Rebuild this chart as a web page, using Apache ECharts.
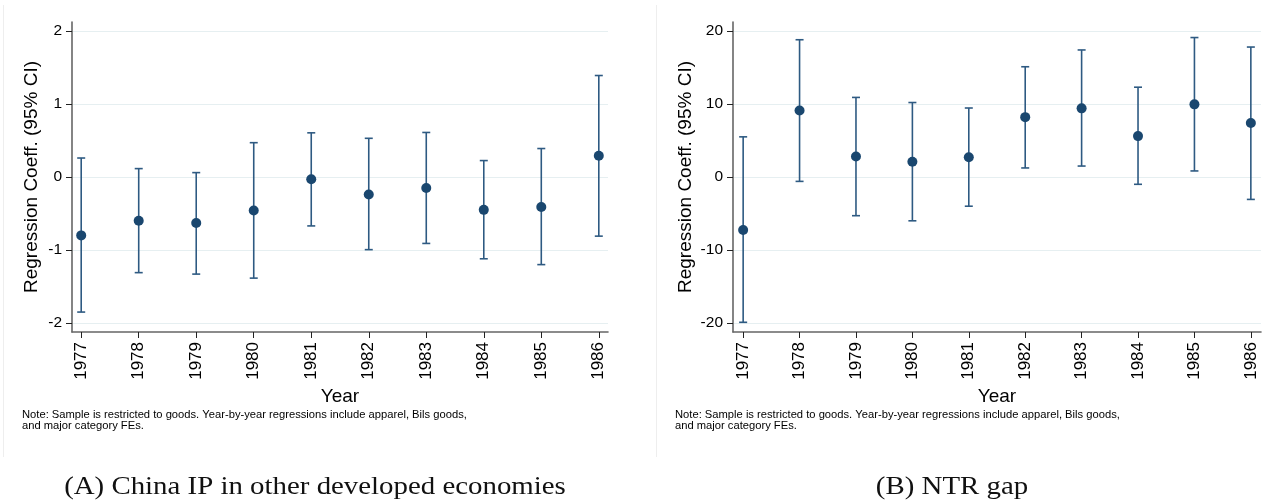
<!DOCTYPE html>
<html>
<head>
<meta charset="utf-8">
<script src="https://cdn.jsdelivr.net/npm/echarts@6/dist/echarts.min.js"></script>
<style>
html,body{margin:0;padding:0;background:#fff;}
#chart{width:1265px;height:502px;}
</style>
</head>
<body>
<div id="chart"></div>
<script>
// ---- data ----
const years = [1977, 1978, 1979, 1980, 1981, 1982, 1983, 1984, 1985, 1986];
const coefA  = [-0.80, -0.60, -0.63, -0.46, -0.03, -0.24, -0.15, -0.45, -0.41, 0.29];
const upperA = [0.26, 0.115, 0.06, 0.47, 0.605, 0.53, 0.61, 0.225, 0.39, 1.39];
const lowerA = [-1.85, -1.31, -1.33, -1.385, -0.67, -0.995, -0.91, -1.12, -1.20, -0.81];
const coefB  = [-7.25, 9.1, 2.8, 2.1, 2.7, 8.2, 9.4, 5.6, 9.95, 7.4];
const upperB = [5.5, 18.8, 10.9, 10.2, 9.45, 15.1, 17.4, 12.3, 19.1, 17.8];
const lowerB = [-19.9, -0.6, -5.3, -6.0, -4.0, 1.24, 1.5, -1.0, 0.83, -3.07];
const yTicksA = [-2, -1, 0, 1, 2];
const yTicksB = [-20, -10, 0, 10, 20];
const yTitle = 'Regression Coeff. (95% CI)';
const xTitle = 'Year';
const noteText = 'Note: Sample is restricted to goods. Year-by-year regressions include apparel, Bils goods,\nand major category FEs.';
const captionA = '(A) China IP in other developed economies';
const captionB = '(B) NTR gap';

const navy = '#1a476f';
const sans = '"Liberation Sans", Arial, sans-serif';
const serif = '"Liberation Serif", "Times New Roman", serif';

function xAxisCfg(idx, min, max) {
  return {
    type: 'value', gridIndex: idx, min: min, max: max,
    name: xTitle, nameLocation: 'middle', nameGap: 55,
    nameTextStyle: {fontFamily: sans, fontSize: 19, color: '#000'},
    axisLine: {show: true, onZero: false, lineStyle: {color: '#666', width: 1.6}},
    axisTick: {show: true, length: 6, customValues: years, lineStyle: {color: '#222', width: 1}},
    axisLabel: {customValues: years, rotate: 90, margin: 10, fontFamily: sans, fontSize: 17, color: '#000', formatter: v => String(v)},
    splitLine: {show: false}
  };
}
function yAxisCfg(idx, lim, ticks, gap) {
  return {
    type: 'value', gridIndex: idx, min: -lim, max: lim,
    name: yTitle, nameLocation: 'middle', nameRotate: 90, nameGap: gap,
    nameTextStyle: {fontFamily: sans, fontSize: 19, color: '#000'},
    axisLine: {show: true, onZero: false, lineStyle: {color: '#666', width: 1.6}},
    axisTick: {show: true, length: 6, customValues: ticks, lineStyle: {color: '#222', width: 1}},
    axisLabel: {customValues: ticks, margin: 10, fontFamily: sans, fontSize: 15.5, color: '#000'},
    splitLine: {show: true, lineStyle: {color: '#e6eff1', width: 1.2}}
  };
}
function errBars(idx, lo, hi) {
  return {
    type: 'custom', xAxisIndex: idx, yAxisIndex: idx,
    data: years.map((y, i) => [y, lo[i], hi[i]]),
    renderItem: function (params, api) {
      const x = api.value(0);
      const p1 = api.coord([x, api.value(1)]);
      const p2 = api.coord([x, api.value(2)]);
      const w = 4;
      const st = {stroke: '#2e5a82', lineWidth: 1.6};
      return {
        type: 'group',
        children: [
          {type: 'line', shape: {x1: p1[0], y1: p1[1], x2: p2[0], y2: p2[1]}, style: st},
          {type: 'line', shape: {x1: p1[0] - w, y1: p1[1], x2: p1[0] + w, y2: p1[1]}, style: st},
          {type: 'line', shape: {x1: p2[0] - w, y1: p2[1], x2: p2[0] + w, y2: p2[1]}, style: st}
        ]
      };
    },
    z: 2
  };
}
function points(idx, vals) {
  return {
    type: 'scatter', xAxisIndex: idx, yAxisIndex: idx,
    data: years.map((y, i) => [y, vals[i]]),
    symbol: 'circle', symbolSize: 10,
    itemStyle: {color: navy, opacity: 1},
    z: 3
  };
}

const chart = echarts.init(document.getElementById('chart'), null, {renderer: 'canvas'});
chart.setOption({
  animation: false,
  backgroundColor: '#fff',
  grid: [
    {left: 72, top: 22, width: 536, height: 310},
    {left: 733, top: 22, width: 528, height: 310}
  ],
  xAxis: [xAxisCfg(0, 1976.84, 1986.16), xAxisCfg(1, 1976.82, 1986.18)],
  yAxis: [yAxisCfg(0, 2.123, yTicksA, 31), yAxisCfg(1, 21.23, yTicksB, 38)],
  series: [errBars(0, lowerA, upperA), points(0, coefA), errBars(1, lowerB, upperB), points(1, coefB)],
  graphic: [
    {type: 'line', shape: {x1: 3.5, y1: 5, x2: 3.5, y2: 457}, style: {stroke: '#eeeeee', lineWidth: 1}, silent: true},
    {type: 'line', shape: {x1: 656.5, y1: 5, x2: 656.5, y2: 457}, style: {stroke: '#eeeeee', lineWidth: 1}, silent: true},
    {type: 'text', left: 22, top: 409, style: {text: noteText, font: '11.2px ' + sans, fill: '#000', lineHeight: 11.5}},
    {type: 'text', left: 675, top: 409, style: {text: noteText, font: '11.2px ' + sans, fill: '#000', lineHeight: 11.5}},
    {type: 'text', x: 315, y: 487, scaleX: 1.11, style: {text: captionA, font: '26px ' + serif, fill: '#111', textAlign: 'center', textVerticalAlign: 'middle'}},
    {type: 'text', x: 952, y: 487, scaleX: 1.11, style: {text: captionB, font: '26px ' + serif, fill: '#111', textAlign: 'center', textVerticalAlign: 'middle'}}
  ]
});
</script>
</body>
</html>
